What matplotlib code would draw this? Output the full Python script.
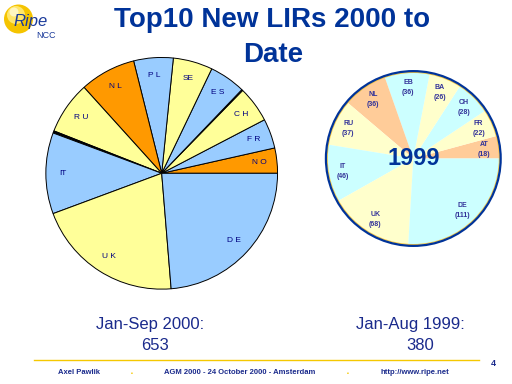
import matplotlib
matplotlib.use("Agg")
import matplotlib.pyplot as plt
from matplotlib.patches import Circle

plt.rcParams['font.family'] = ['Liberation Sans', 'DejaVu Sans']

# ---- data: 2000 (Jan-Sep) ----
labels_2000 = ["N O", "F R", "C H", "", "E S", "SE", "P L", "N L", "R U", "", "IT", "U K", "D E"]
values_2000 = [23, 27, 33, 1, 33, 36, 36, 51, 48, 2, 74, 135, 155]
colors_2000 = ["#FF9900", "#99CCFF", "#FFFF99", "#FFFFFF", "#99CCFF", "#FFFF99", "#99CCFF",
               "#FF9900", "#FFFF99", "#000000", "#99CCFF", "#FFFF99", "#99CCFF"]

# ---- data: 1999 (Jan-Aug) ----
labels_1999 = ["AT", "FR", "CH", "BA", "EB", "NL", "RU", "IT", "UK", "DE"]
values_1999 = [18, 22, 28, 26, 36, 36, 37, 46, 68, 111]
colors_1999 = ["#FFCC99", "#FFFFCC", "#CCFFFF", "#FFFFCC", "#CCFFFF", "#FFCC99",
               "#FFFFCC", "#CCFFFF", "#FFFFCC", "#CCFFFF"]

W, H = 512, 384
fig = plt.figure(figsize=(W / 100, H / 100), dpi=100)
fig.patch.set_facecolor("white")

navy = "#0A3796"
textblue = "#1A2A8C"


def axes_at(cx, cy, r):
    return fig.add_axes([(cx - r) / W, (H - cy - r) / H, 2 * r / W, 2 * r / H])


# ---- left pie ----
ax1 = axes_at(161.7, 173.3, 117)
wedges, texts = ax1.pie(values_2000, colors=colors_2000, startangle=0, counterclock=True,
                        labels=labels_2000, labeldistance=0.85,
                        wedgeprops=dict(edgecolor="black", linewidth=0.7),
                        textprops=dict(fontsize=6, color="#000080"))
for t in texts:
    t.set_ha("center")
    t.set_va("center")
ax1.set_xlim(-1.01, 1.01)
ax1.set_ylim(-1.01, 1.01)
ax1.set_aspect("auto")
ax1.axis("off")

# ---- right pie ----
ax2 = axes_at(413.3, 158.5, 90)
lab99 = [f"{l}\n({v})" for l, v in zip(labels_1999, values_1999)]
wedges2, texts2 = ax2.pie(values_1999, colors=colors_1999, startangle=0, counterclock=True,
                          labels=lab99, labeldistance=0.82,
                          wedgeprops=dict(linewidth=0),
                          textprops=dict(fontsize=5, color="#333399", fontweight="bold",
                                         linespacing=1.6))
for t in texts2:
    t.set_ha("center")
    t.set_va("center")
ax2.add_patch(Circle((0, 0), 0.985, fill=False, edgecolor="#F5C542", linewidth=0.8))
ax2.add_patch(Circle((0, 0), 1.0, fill=False, edgecolor="#003399", linewidth=1.6))
ax2.text(0, 0, "1999", ha="center", va="center", fontsize=17, fontweight="bold", color="#003399")
ax2.set_xlim(-1.03, 1.03)
ax2.set_ylim(-1.03, 1.03)
ax2.set_aspect("auto")
ax2.axis("off")

# ---- title ----
fig.text(272.5 / W, 1 - 26.7 / H, "Top10 New LIRs 2000 to", ha="center", va="baseline",
         fontsize=20, fontweight="bold", color="#003399")
fig.text(273 / W, 1 - 61.5 / H, "Date", ha="center", va="baseline",
         fontsize=20, fontweight="bold", color="#003399")

# ---- logo ----
axl = fig.add_axes([0, 1 - 45 / H, 70 / W, 45 / H])
axl.set_xlim(0, 70)
axl.set_ylim(45, 0)
axl.axis("off")
axl.add_patch(Circle((18.5, 19), 14.5, facecolor="#F5C400", edgecolor="none"))
axl.add_patch(Circle((16, 15), 9, facecolor="#FFE66A", edgecolor="none"))
axl.add_patch(Circle((14, 12), 4.5, facecolor="#FFF6C0", edgecolor="none"))
axl.text(13.5, 21.5, "Ripe", fontsize=12, style="italic", color="#1A3A9A", va="center", ha="left")
axl.text(36, 35.5, "NCC", fontsize=6.5, color="#1A3A9A", va="center", ha="left")

# ---- captions ----
fig.text(150.5 / W, 1 - 325 / H, "Jan-Sep 2000:", ha="center", va="center", fontsize=12, color=textblue)
fig.text(155 / W, 1 - 346 / H, "653", ha="center", va="center", fontsize=12, color=textblue)
fig.text(410.5 / W, 1 - 325 / H, "Jan-Aug 1999:", ha="center", va="center", fontsize=12, color=textblue)
fig.text(420 / W, 1 - 346 / H, "380", ha="center", va="center", fontsize=12, color=textblue)

# ---- footer ----
fig.add_artist(plt.Line2D([34 / W, 479 / W], [1 - 359.5 / H, 1 - 359.5 / H], color="#F5C800", linewidth=1))
fig.text(79 / W, 1 - 372 / H, "Axel Pawlik", ha="center", va="center", fontsize=5.5, fontweight="bold", color=textblue)
fig.text(239.5 / W, 1 - 372 / H, "AGM 2000 - 24 October 2000 - Amsterdam", ha="center", va="center",
         fontsize=5.5, fontweight="bold", color=textblue)
fig.text(415 / W, 1 - 372 / H, "http://www.ripe.net", ha="center", va="center", fontsize=5.5,
         fontweight="bold", color=textblue)
fig.text(132 / W, 1 - 373 / H, "\u25aa", ha="center", va="center", fontsize=4, color="#F5C800")
fig.text(348 / W, 1 - 373 / H, "\u25aa", ha="center", va="center", fontsize=4, color="#F5C800")
fig.text(493 / W, 1 - 363 / H, "4", ha="center", va="center", fontsize=6.5, fontweight="bold", color=textblue)

fig.savefig("out.png", dpi=100)
